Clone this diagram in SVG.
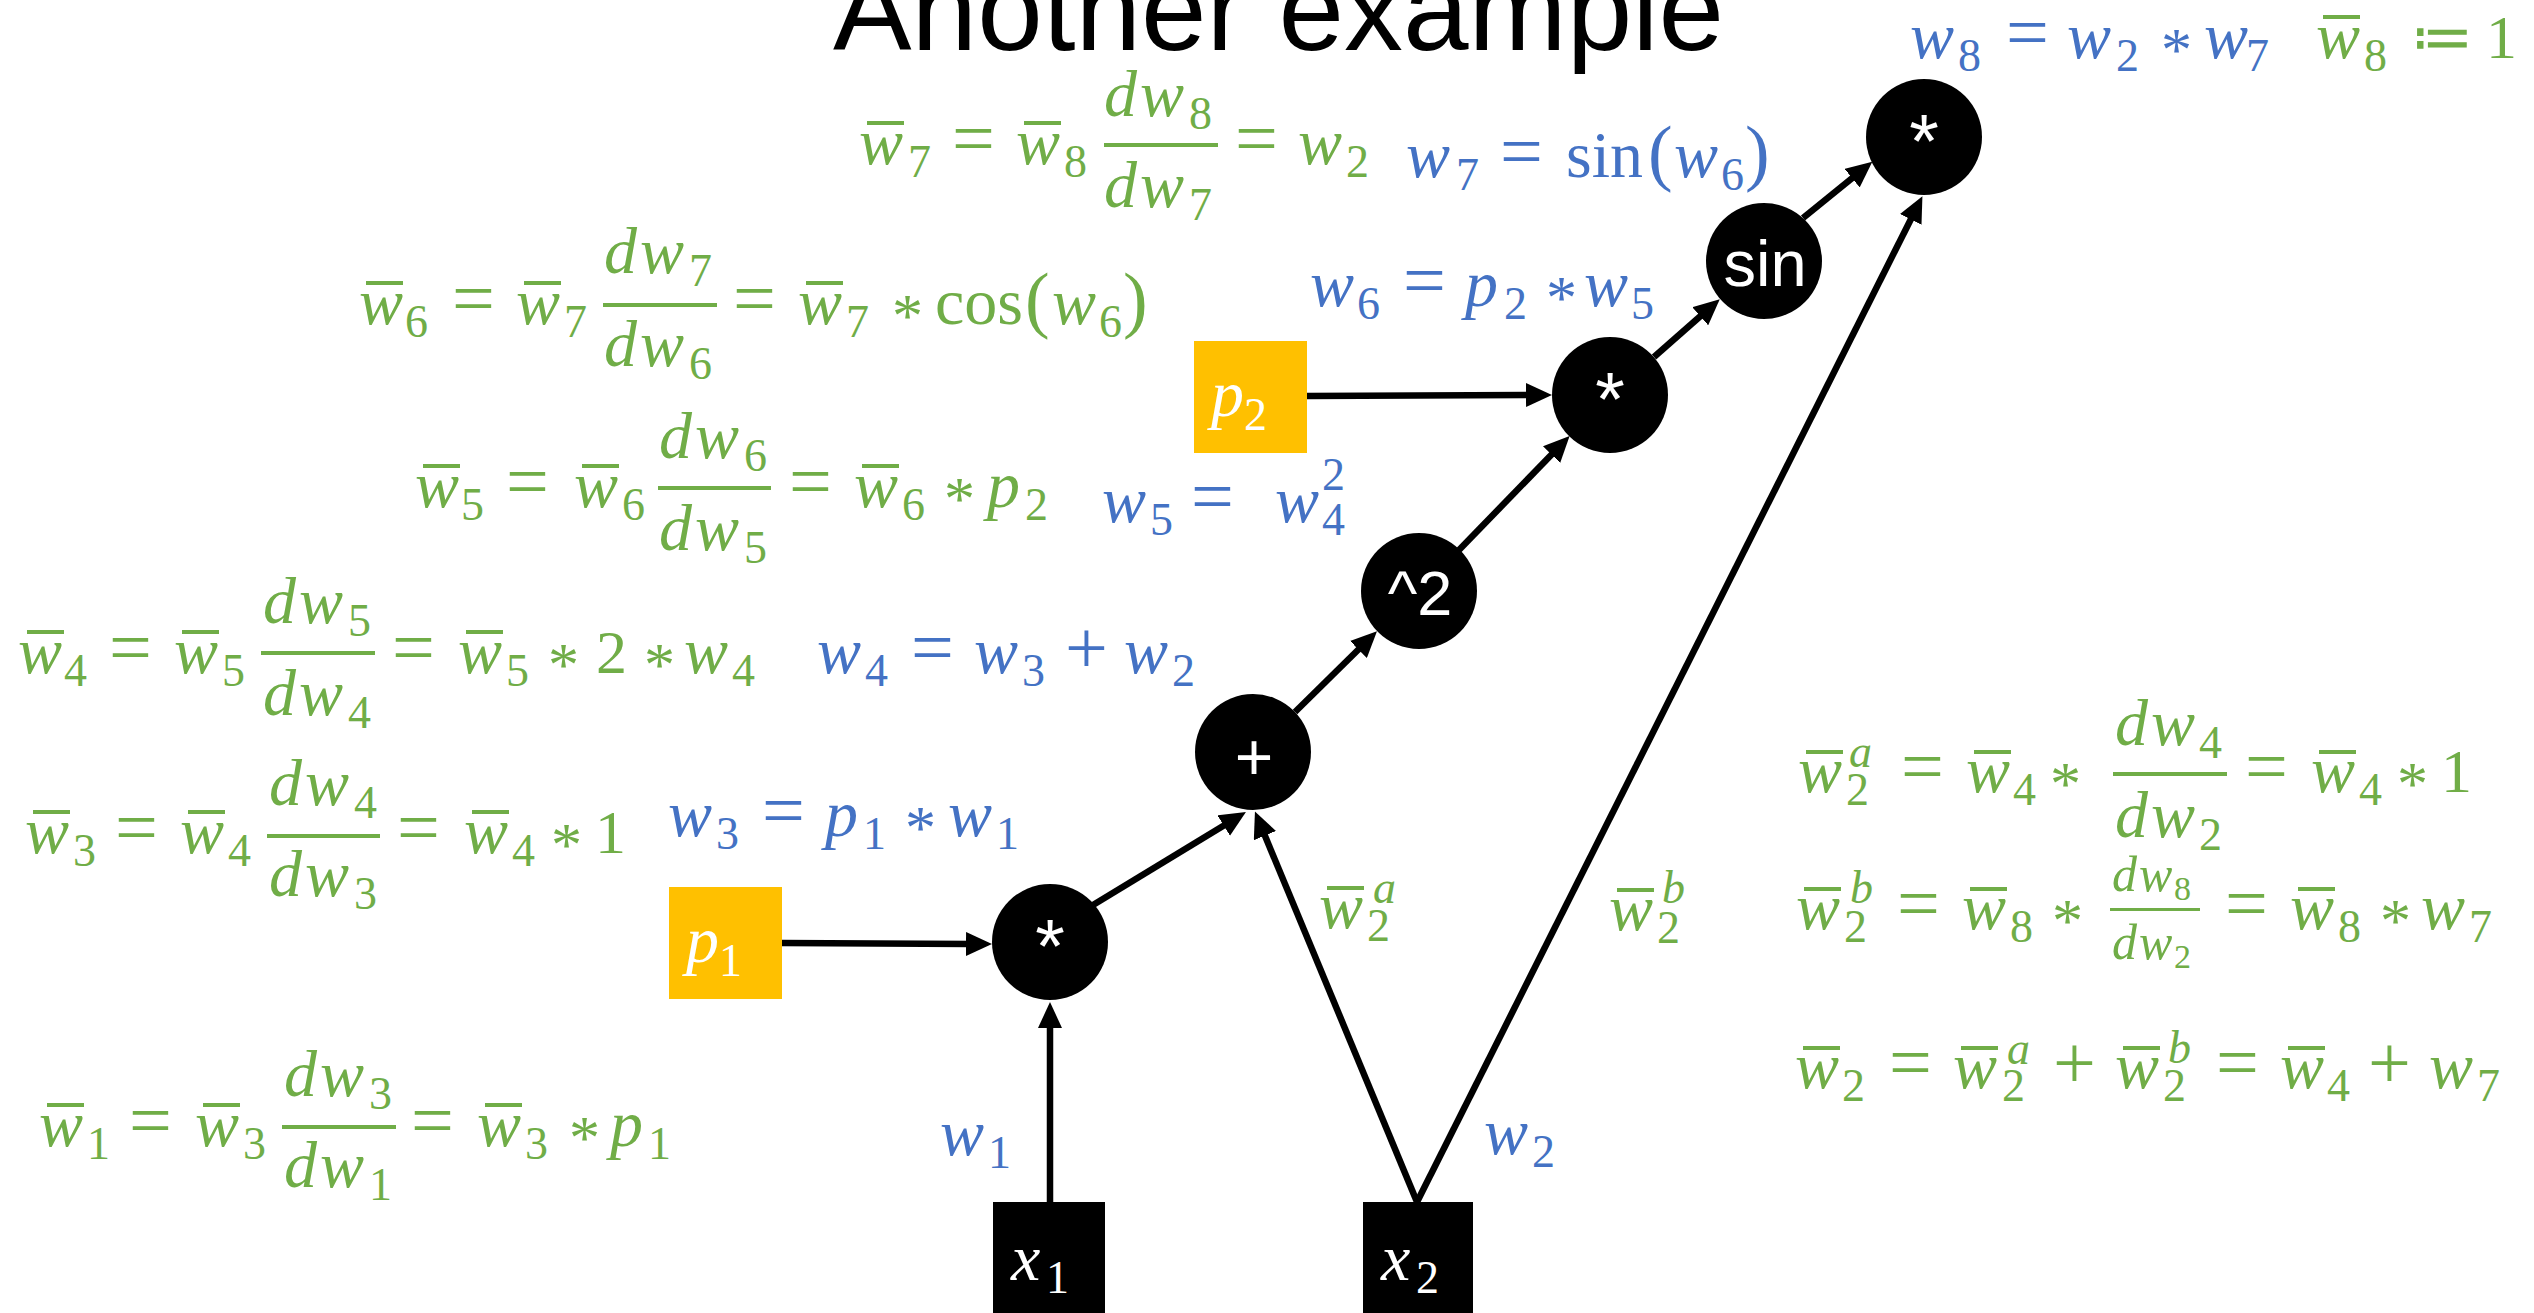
<svg xmlns="http://www.w3.org/2000/svg" width="2534" height="1313" viewBox="0 0 2534 1313">
<style>
.g{fill:#70AD47}.b{fill:#4472C4}
text{font-family:"Liberation Serif",serif}
.v{font-style:italic;font-size:66px}
.s{font-size:46px}
.sv{font-style:italic;font-size:46px}
.n{font-size:62px}
.o{font-size:76px}
.a{font-size:62px}
.f{font-size:66px}
.p{font-size:74px}
.fv{font-style:italic;font-size:50px}
.fs{font-size:34px}
.k{font-family:"DejaVu Sans",sans-serif;font-size:62px}
.lbl{font-family:"Liberation Sans",sans-serif;fill:#fff;text-anchor:middle}
.wl{fill:#fff}
.title{font-family:"Liberation Sans",sans-serif;font-size:116px;fill:#000}
.cn line{stroke:#000;stroke-width:6.5;marker-end:url(#ah)}
</style>
<defs>
<marker id="ah" markerUnits="userSpaceOnUse" markerWidth="26" markerHeight="24" viewBox="0 0 26 24" refX="5" refY="12" orient="auto"><path d="M0,0 L26,12 L0,24 z" fill="#000"/></marker>
</defs>
<rect width="2534" height="1313" fill="#fff"/>
<text class="title" x="833" y="50" textLength="891" lengthAdjust="spacingAndGlyphs">Another example</text>

<g id="connectors" class="cn">
<line x1="782" y1="943" x2="971" y2="944"/>
<line x1="1050" y1="1202" x2="1050" y2="1023"/>
<line x1="1093" y1="905" x2="1228" y2="823"/>
<line x1="1417" y1="1202" x2="1263" y2="831"/>
<line x1="1417" y1="1202" x2="1913" y2="215"/>
<line x1="1295" y1="712" x2="1362" y2="646"/>
<line x1="1459" y1="550" x2="1555" y2="451"/>
<line x1="1654" y1="357" x2="1704" y2="313"/>
<line x1="1803" y1="218" x2="1856" y2="175"/>
<line x1="1307" y1="396" x2="1531" y2="395"/>
</g>

<g id="node-x1"><rect x="993" y="1202" width="112" height="111" fill="#000"/><text class="wl"><tspan class="v" x="1011" y="1280">x</tspan><tspan class="s" x="1046" y="1293">1</tspan></text></g>
<g id="node-x2"><rect x="1363" y="1202" width="110" height="111" fill="#000"/><text class="wl"><tspan class="v" x="1381" y="1280">x</tspan><tspan class="s" x="1416" y="1293">2</tspan></text></g>
<g id="node-p1"><rect x="669" y="887" width="113" height="112" fill="#FFC000"/><text class="wl"><tspan class="v" x="686" y="962">p</tspan><tspan class="s" x="719" y="976">1</tspan></text></g>
<g id="node-p2"><rect x="1194" y="341" width="113" height="112" fill="#FFC000"/><text class="wl"><tspan class="v" x="1211" y="416">p</tspan><tspan class="s" x="1244" y="430">2</tspan></text></g>
<g id="node-mul1"><circle cx="1050" cy="942" r="58" fill="#000"/><text class="lbl" x="1050" y="972" font-size="76">*</text></g>
<g id="node-plus"><circle cx="1253" cy="752" r="58" fill="#000"/><text class="lbl" x="1254" y="780" font-size="66">+</text></g>
<g id="node-sq"><circle cx="1419" cy="591" r="58" fill="#000"/><text class="lbl" x="1420" y="615" font-size="63">^2</text></g>
<g id="node-mul2"><circle cx="1610" cy="395" r="58" fill="#000"/><text class="lbl" x="1610" y="425" font-size="76">*</text></g>
<g id="node-sin"><circle cx="1764" cy="261" r="58" fill="#000"/><text class="lbl" x="1765" y="286" font-size="65">sin</text></g>
<g id="node-mul3"><circle cx="1924" cy="137" r="58" fill="#000"/><text class="lbl" x="1924" y="167" font-size="76">*</text></g>

<g id="eq-top" >
<text class="b"><tspan class="v" x="1910" y="58">w</tspan><tspan class="s" x="1958" y="71">8</tspan><tspan class="o" x="2006" y="58">=</tspan><tspan class="v" x="2067" y="58">w</tspan><tspan class="s" x="2116" y="71">2</tspan><tspan class="a" x="2161" y="70">*</tspan><tspan class="v" x="2204" y="58">w</tspan><tspan class="s" x="2246" y="71">7</tspan></text>
<text class="g"><tspan class="v" x="2316" y="58">w</tspan><tspan class="s" x="2364" y="71">8</tspan><tspan class="k" x="2411" y="58">≔</tspan><tspan class="n" x="2486" y="58">1</tspan></text>
<rect class="g" x="2323" y="15" width="37" height="4"/>
</g>

<g id="eq-w7" class="g">
<text><tspan class="v" x="859" y="164">w</tspan><tspan class="s" x="908" y="177">7</tspan><tspan class="o" x="952" y="164">=</tspan><tspan class="v" x="1016" y="164">w</tspan><tspan class="s" x="1064" y="177">8</tspan><tspan class="v" x="1104" y="116">d</tspan><tspan class="v" x="1140" y="116">w</tspan><tspan class="s" x="1189" y="129">8</tspan><tspan class="v" x="1104" y="207">d</tspan><tspan class="v" x="1140" y="207">w</tspan><tspan class="s" x="1189" y="220">7</tspan><tspan class="o" x="1235" y="164">=</tspan><tspan class="v" x="1298" y="164">w</tspan><tspan class="s" x="1346" y="177">2</tspan></text>
<rect x="867" y="121" width="37" height="4"/><rect x="1024" y="121" width="37" height="4"/><rect x="1104" y="143" width="114" height="4"/>
</g>
<g id="eq-w7b" class="b">
<text><tspan class="v" x="1406" y="177">w</tspan><tspan class="s" x="1456" y="190">7</tspan><tspan class="o" x="1500" y="177">=</tspan><tspan class="f" x="1566" y="177">sin</tspan><tspan class="p" x="1648" y="177">(</tspan><tspan class="v" x="1674" y="177">w</tspan><tspan class="s" x="1721" y="190">6</tspan><tspan class="p" x="1745" y="177">)</tspan></text>
</g>

<g id="eq-w6" class="g">
<text><tspan class="v" x="359" y="324">w</tspan><tspan class="s" x="405" y="337">6</tspan><tspan class="o" x="452" y="324">=</tspan><tspan class="v" x="516" y="324">w</tspan><tspan class="s" x="564" y="337">7</tspan><tspan class="v" x="604" y="273">d</tspan><tspan class="v" x="640" y="273">w</tspan><tspan class="s" x="689" y="286">7</tspan><tspan class="v" x="604" y="366">d</tspan><tspan class="v" x="640" y="366">w</tspan><tspan class="s" x="689" y="379">6</tspan><tspan class="o" x="733" y="324">=</tspan><tspan class="v" x="798" y="324">w</tspan><tspan class="s" x="846" y="337">7</tspan><tspan class="a" x="892" y="336">*</tspan><tspan class="f" x="935" y="324">cos</tspan><tspan class="p" x="1025" y="324">(</tspan><tspan class="v" x="1052" y="324">w</tspan><tspan class="s" x="1099" y="337">6</tspan><tspan class="p" x="1123" y="324">)</tspan></text>
<rect x="366" y="281" width="37" height="4"/><rect x="524" y="281" width="37" height="4"/><rect x="806" y="281" width="37" height="4"/><rect x="603" y="303" width="114" height="4"/>
</g>
<g id="eq-w6b" class="b">
<text><tspan class="v" x="1310" y="306">w</tspan><tspan class="s" x="1357" y="319">6</tspan><tspan class="o" x="1403" y="306">=</tspan><tspan class="v" x="1465" y="306">p</tspan><tspan class="s" x="1504" y="319">2</tspan><tspan class="a" x="1546" y="318">*</tspan><tspan class="v" x="1584" y="306">w</tspan><tspan class="s" x="1631" y="319">5</tspan></text>
</g>

<g id="eq-w5" class="g">
<text><tspan class="v" x="415" y="507">w</tspan><tspan class="s" x="461" y="520">5</tspan><tspan class="o" x="506" y="507">=</tspan><tspan class="v" x="574" y="507">w</tspan><tspan class="s" x="622" y="520">6</tspan><tspan class="v" x="659" y="458">d</tspan><tspan class="v" x="695" y="458">w</tspan><tspan class="s" x="744" y="471">6</tspan><tspan class="v" x="659" y="550">d</tspan><tspan class="v" x="695" y="550">w</tspan><tspan class="s" x="744" y="563">5</tspan><tspan class="o" x="789" y="507">=</tspan><tspan class="v" x="854" y="507">w</tspan><tspan class="s" x="902" y="520">6</tspan><tspan class="a" x="944" y="519">*</tspan><tspan class="v" x="987" y="507">p</tspan><tspan class="s" x="1025" y="520">2</tspan></text>
<rect x="423" y="464" width="37" height="4"/><rect x="582" y="464" width="37" height="4"/><rect x="862" y="464" width="37" height="4"/><rect x="658" y="486" width="113" height="4"/>
</g>
<g id="eq-w5b" class="b">
<text><tspan class="v" x="1102" y="522">w</tspan><tspan class="s" x="1150" y="535">5</tspan><tspan class="o" x="1191" y="522">=</tspan><tspan class="v" x="1275" y="522">w</tspan><tspan class="s" x="1322" y="535">4</tspan><tspan class="s" x="1322" y="490">2</tspan></text>
</g>

<g id="eq-w4" class="g">
<text><tspan class="v" x="18" y="673">w</tspan><tspan class="s" x="64" y="686">4</tspan><tspan class="o" x="109" y="673">=</tspan><tspan class="v" x="174" y="673">w</tspan><tspan class="s" x="222" y="686">5</tspan><tspan class="v" x="263" y="623">d</tspan><tspan class="v" x="299" y="623">w</tspan><tspan class="s" x="348" y="636">5</tspan><tspan class="v" x="263" y="715">d</tspan><tspan class="v" x="299" y="715">w</tspan><tspan class="s" x="348" y="728">4</tspan><tspan class="o" x="392" y="673">=</tspan><tspan class="v" x="458" y="673">w</tspan><tspan class="s" x="506" y="686">5</tspan><tspan class="a" x="548" y="685">*</tspan><tspan class="n" x="596" y="673">2</tspan><tspan class="a" x="644" y="685">*</tspan><tspan class="v" x="684" y="673">w</tspan><tspan class="s" x="732" y="686">4</tspan></text>
<rect x="27" y="630" width="37" height="4"/><rect x="182" y="630" width="37" height="4"/><rect x="466" y="630" width="37" height="4"/><rect x="261" y="651" width="114" height="4"/>
</g>
<g id="eq-w4b" class="b">
<text><tspan class="v" x="817" y="673">w</tspan><tspan class="s" x="865" y="686">4</tspan><tspan class="o" x="911" y="673">=</tspan><tspan class="v" x="974" y="673">w</tspan><tspan class="s" x="1022" y="686">3</tspan><tspan class="o" x="1065" y="673">+</tspan><tspan class="v" x="1124" y="673">w</tspan><tspan class="s" x="1172" y="686">2</tspan></text>
</g>

<g id="eq-w3" class="g">
<text><tspan class="v" x="25" y="853">w</tspan><tspan class="s" x="73" y="866">3</tspan><tspan class="o" x="115" y="853">=</tspan><tspan class="v" x="180" y="853">w</tspan><tspan class="s" x="228" y="866">4</tspan><tspan class="v" x="269" y="805">d</tspan><tspan class="v" x="305" y="805">w</tspan><tspan class="s" x="354" y="818">4</tspan><tspan class="v" x="269" y="896">d</tspan><tspan class="v" x="305" y="896">w</tspan><tspan class="s" x="354" y="909">3</tspan><tspan class="o" x="397" y="853">=</tspan><tspan class="v" x="464" y="853">w</tspan><tspan class="s" x="512" y="866">4</tspan><tspan class="a" x="551" y="865">*</tspan><tspan class="n" x="595" y="853">1</tspan></text>
<rect x="33" y="810" width="37" height="4"/><rect x="188" y="810" width="37" height="4"/><rect x="472" y="810" width="37" height="4"/><rect x="267" y="834" width="113" height="4"/>
</g>
<g id="eq-w3b" class="b">
<text><tspan class="v" x="668" y="836">w</tspan><tspan class="s" x="716" y="849">3</tspan><tspan class="o" x="762" y="836">=</tspan><tspan class="v" x="825" y="836">p</tspan><tspan class="s" x="863" y="849">1</tspan><tspan class="a" x="905" y="848">*</tspan><tspan class="v" x="948" y="836">w</tspan><tspan class="s" x="996" y="849">1</tspan></text>
</g>

<g id="eq-w1" class="g">
<text><tspan class="v" x="39" y="1146">w</tspan><tspan class="s" x="87" y="1159">1</tspan><tspan class="o" x="129" y="1146">=</tspan><tspan class="v" x="195" y="1146">w</tspan><tspan class="s" x="243" y="1159">3</tspan><tspan class="v" x="284" y="1096">d</tspan><tspan class="v" x="320" y="1096">w</tspan><tspan class="s" x="369" y="1109">3</tspan><tspan class="v" x="284" y="1187">d</tspan><tspan class="v" x="320" y="1187">w</tspan><tspan class="s" x="369" y="1200">1</tspan><tspan class="o" x="411" y="1146">=</tspan><tspan class="v" x="477" y="1146">w</tspan><tspan class="s" x="525" y="1159">3</tspan><tspan class="a" x="569" y="1158">*</tspan><tspan class="v" x="610" y="1146">p</tspan><tspan class="s" x="648" y="1159">1</tspan></text>
<rect x="47" y="1103" width="37" height="4"/><rect x="203" y="1103" width="37" height="4"/><rect x="485" y="1103" width="37" height="4"/><rect x="282" y="1125" width="114" height="4"/>
</g>

<g id="lbl-w1" class="b"><text><tspan class="v" x="940" y="1155">w</tspan><tspan class="s" x="988" y="1168">1</tspan></text></g>
<g id="lbl-w2" class="b"><text><tspan class="v" x="1484" y="1154">w</tspan><tspan class="s" x="1532" y="1167">2</tspan></text></g>
<g id="lbl-w2a" class="g"><text><tspan class="v" x="1319" y="928">w</tspan><tspan class="s" x="1367" y="941">2</tspan><tspan class="sv" x="1373" y="903">a</tspan></text><rect x="1327" y="886" width="37" height="4"/></g>
<g id="lbl-w2b" class="g"><text><tspan class="v" x="1609" y="930">w</tspan><tspan class="s" x="1657" y="943">2</tspan><tspan class="sv" x="1662" y="903">b</tspan></text><rect x="1617" y="888" width="37" height="4"/></g>

<g id="eq-w2a" class="g">
<text><tspan class="v" x="1798" y="792">w</tspan><tspan class="s" x="1846" y="805">2</tspan><tspan class="sv" x="1849" y="767">a</tspan><tspan class="o" x="1901" y="792">=</tspan><tspan class="v" x="1966" y="792">w</tspan><tspan class="s" x="2013" y="805">4</tspan><tspan class="a" x="2050" y="804">*</tspan><tspan class="v" x="2115" y="745">d</tspan><tspan class="v" x="2151" y="745">w</tspan><tspan class="s" x="2199" y="758">4</tspan><tspan class="v" x="2115" y="837">d</tspan><tspan class="v" x="2151" y="837">w</tspan><tspan class="s" x="2199" y="850">2</tspan><tspan class="o" x="2245" y="792">=</tspan><tspan class="v" x="2311" y="792">w</tspan><tspan class="s" x="2359" y="805">4</tspan><tspan class="a" x="2397" y="804">*</tspan><tspan class="n" x="2441" y="792">1</tspan></text>
<rect x="1806" y="750" width="37" height="4"/><rect x="1974" y="750" width="37" height="4"/><rect x="2319" y="750" width="37" height="4"/><rect x="2113" y="772" width="114" height="4"/>
</g>
<g id="eq-w2b" class="g">
<text><tspan class="v" x="1796" y="929">w</tspan><tspan class="s" x="1844" y="942">2</tspan><tspan class="sv" x="1850" y="903">b</tspan><tspan class="o" x="1897" y="929">=</tspan><tspan class="v" x="1962" y="929">w</tspan><tspan class="s" x="2010" y="942">8</tspan><tspan class="a" x="2052" y="941">*</tspan><tspan class="fv" x="2112" y="891">d</tspan><tspan class="fv" x="2139" y="891">w</tspan><tspan class="fs" x="2174" y="900">8</tspan><tspan class="fv" x="2112" y="959">d</tspan><tspan class="fv" x="2139" y="959">w</tspan><tspan class="fs" x="2174" y="968">2</tspan><tspan class="o" x="2225" y="929">=</tspan><tspan class="v" x="2290" y="929">w</tspan><tspan class="s" x="2338" y="942">8</tspan><tspan class="a" x="2380" y="941">*</tspan><tspan class="v" x="2421" y="929">w</tspan><tspan class="s" x="2469" y="942">7</tspan></text>
<rect x="1804" y="887" width="37" height="4"/><rect x="1970" y="887" width="37" height="4"/><rect x="2298" y="887" width="37" height="4"/><rect x="2110" y="908" width="90" height="3"/>
</g>
<g id="eq-w2" class="g">
<text><tspan class="v" x="1795" y="1088">w</tspan><tspan class="s" x="1842" y="1101">2</tspan><tspan class="o" x="1889" y="1088">=</tspan><tspan class="v" x="1953" y="1088">w</tspan><tspan class="s" x="2002" y="1101">2</tspan><tspan class="sv" x="2007" y="1064">a</tspan><tspan class="o" x="2053" y="1088">+</tspan><tspan class="v" x="2115" y="1088">w</tspan><tspan class="s" x="2163" y="1101">2</tspan><tspan class="sv" x="2168" y="1063">b</tspan><tspan class="o" x="2216" y="1088">=</tspan><tspan class="v" x="2280" y="1088">w</tspan><tspan class="s" x="2327" y="1101">4</tspan><tspan class="o" x="2368" y="1088">+</tspan><tspan class="v" x="2429" y="1088">w</tspan><tspan class="s" x="2477" y="1101">7</tspan></text>
<rect x="1803" y="1046" width="37" height="4"/><rect x="1961" y="1046" width="37" height="4"/><rect x="2123" y="1046" width="37" height="4"/><rect x="2288" y="1046" width="37" height="4"/>
</g>
</svg>
